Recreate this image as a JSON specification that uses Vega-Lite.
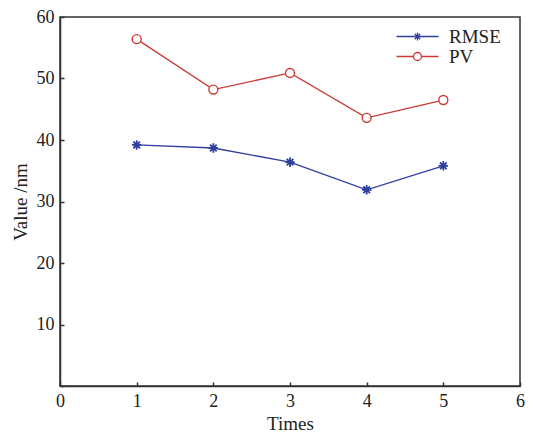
{
  "$schema": "https://vega.github.io/schema/vega-lite/v6.json",
  "autosize": {"type": "none"},
  "padding": {"left": 60, "top": 17, "right": 13, "bottom": 50},
  "width": 460,
  "height": 369,
  "background": "white",
  "config": {
    "view": {"stroke": "#333333", "strokeWidth": 1.5},
    "font": "Liberation Serif",
    "axis": {
      "grid": false,
      "domainColor": "#333333",
      "domainWidth": 1.5,
      "tickColor": "#333333",
      "tickWidth": 1.5,
      "tickSize": -4,
      "labelFont": "Liberation Serif",
      "labelFontSize": 18,
      "labelColor": "#222222",
      "titleFont": "Liberation Serif",
      "titleFontSize": 19,
      "titleFontWeight": "normal",
      "titleColor": "#222222"
    }
  },
  "data": {
    "values": [
      {"t": 1, "series": "RMSE", "v": 39.2},
      {"t": 2, "series": "RMSE", "v": 38.7},
      {"t": 3, "series": "RMSE", "v": 36.4},
      {"t": 4, "series": "RMSE", "v": 31.9},
      {"t": 5, "series": "RMSE", "v": 35.8},
      {"t": 1, "series": "PV", "v": 56.4},
      {"t": 2, "series": "PV", "v": 48.2},
      {"t": 3, "series": "PV", "v": 50.9},
      {"t": 4, "series": "PV", "v": 43.6},
      {"t": 5, "series": "PV", "v": 46.5}
    ]
  },
  "encoding": {
    "x": {
      "field": "t", "type": "quantitative",
      "scale": {"domain": [0, 6], "nice": false, "zero": false},
      "axis": {"values": [0, 1, 2, 3, 4, 5, 6], "title": "Times", "labelPadding": 10, "titlePadding": 4, "labelFlush": false}
    },
    "y": {
      "field": "v", "type": "quantitative",
      "scale": {"domain": [0, 60], "nice": false},
      "axis": {"values": [0, 10, 20, 30, 40, 50, 60], "title": "Value /nm", "labelPadding": 10, "titlePadding": 6,
               "labelExpr": "datum.value == 0 ? '' : datum.label", "labelFlush": false}
    }
  },
  "layer": [
    {
      "mark": {"type": "line", "strokeWidth": 1.3},
      "encoding": {
        "color": {
          "field": "series", "type": "nominal",
          "scale": {"domain": ["RMSE", "PV"], "range": ["#2f3fa0", "#cc3a33"]},
          "legend": {
            "title": null,
            "orient": "none",
            "legendX": 348,
            "legendY": 10,
            "padding": 0,
            "labelFont": "Liberation Serif",
            "labelFontSize": 19,
            "labelColor": "#222222",
            "rowPadding": 0,
            "symbolSize": 100,
            "symbolStrokeWidth": 1.3,
            "symbolFillColor": "transparent",
            "labelOffset": 22,
            "encode": {
              "symbols": {
                "update": {
                  "shape": {"signal": "datum.value == 'RMSE' ? 'M-4.2,0H4.2M0,-0.8V0.8M-0.8,0H0.8M-0.56,-0.56L0.56,0.56M-0.56,0.56L0.56,-0.56' : 'M-4.2,0H-0.8M0.8,0H4.2M-0.8,0A0.8,0.8 0 1,0 0.8,0A0.8,0.8 0 1,0 -0.8,0'"},
                  "fill": {"value": "transparent"}
                }
              }
            }
          }
        }
      }
    },
    {
      "transform": [{"filter": "datum.series == 'RMSE'"}],
      "mark": {"type": "point", "shape": "M0,-1V1M-1,0H1M-0.7,-0.7L0.7,0.7M-0.7,0.7L0.7,-0.7", "size": 90, "filled": false, "color": "#2f3fa0", "strokeWidth": 1.8, "opacity": 1}
    },
    {
      "transform": [{"filter": "datum.series == 'PV'"}],
      "mark": {"type": "point", "shape": "circle", "size": 80, "filled": false, "color": "#cc3a33", "strokeWidth": 1.4, "opacity": 1, "fill": "white"}
    }
  ]
}
